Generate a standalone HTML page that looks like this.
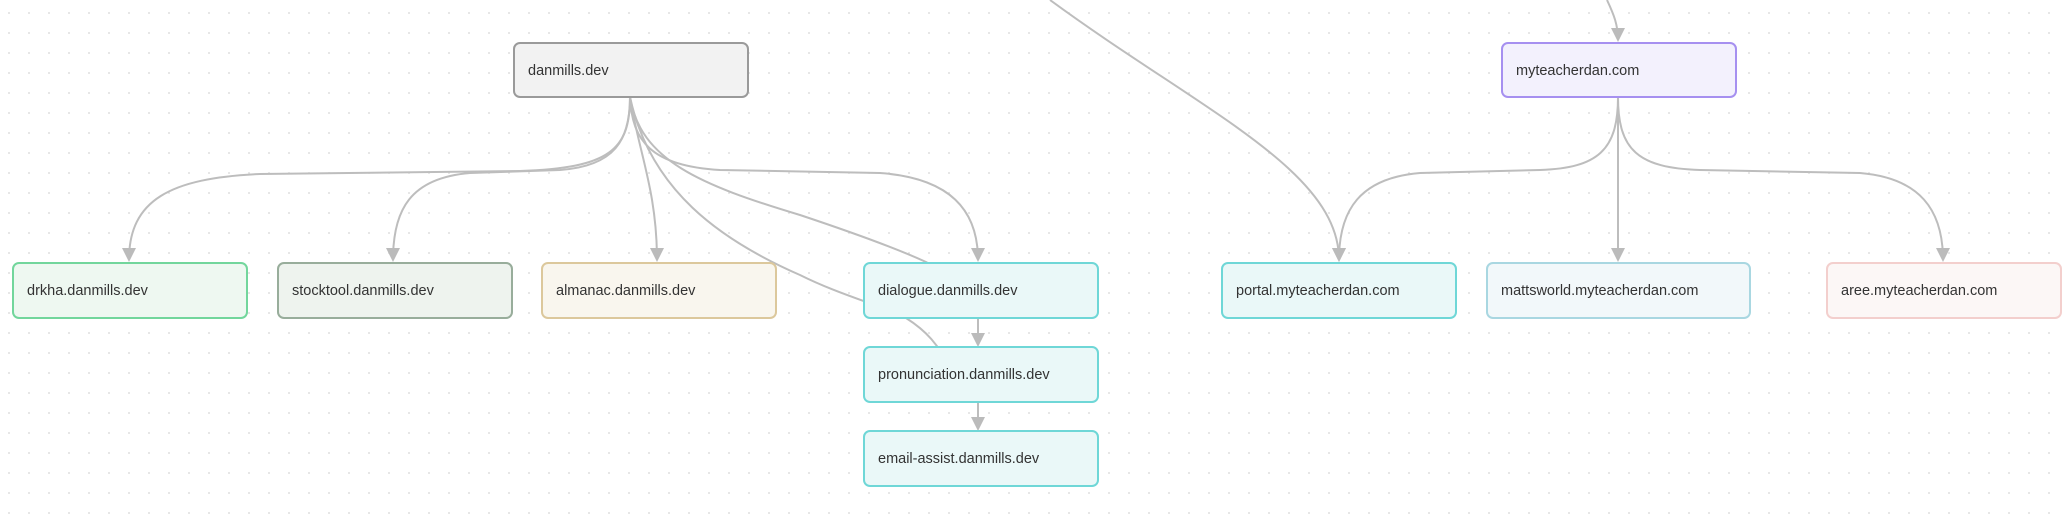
<!DOCTYPE html>
<html><head><meta charset="utf-8"><style>
html,body{margin:0;padding:0;background:#fff;}
body{width:2066px;height:529px;overflow:hidden;}
svg{display:block;}
text{font-family:"Liberation Sans",sans-serif;font-size:14.5px;fill:#333;}
</style></head><body>
<svg width="2066" height="529" xmlns="http://www.w3.org/2000/svg">
<defs>
<pattern id="dots" width="20" height="20" patternUnits="userSpaceOnUse" x="8" y="12">
<circle cx="1" cy="1" r="1" fill="#e0e0e0"/></pattern>
<marker id="ar" markerWidth="14" markerHeight="14" refX="12" refY="7" orient="auto" markerUnits="userSpaceOnUse">
<path d="M0,0 L14,7 L0,14 z" fill="#bbb"/></marker>
</defs>
<rect width="2066" height="529" fill="url(#dots)"/>
<g fill="none" stroke="#bdbdbd" stroke-width="2">
<path d="M630,97 C630,150 610,168 520,171 L260,174 C170,178 129,200 129,260" marker-end="url(#ar)"/>
<path d="M630,97 C630,140 615,166 560,170 L470,173 C410,178 393,210 393,260" marker-end="url(#ar)"/>
<path d="M630,97 C638,150 657,190 657,260" marker-end="url(#ar)"/>
<path d="M630,97 C632,140 650,166 720,170 L880,173 C950,178 978,210 978,260" marker-end="url(#ar)"/>
<path d="M630,97 C640,160 700,185 800,215 C860,235 900,250 926,262 C950,275 960,290 960,300"/>
<path d="M630,97 C650,190 720,240 800,275 C840,295 880,305 906,318 C925,330 940,345 950,370"/>
<path d="M978,318 L978,345" marker-end="url(#ar)"/>
<path d="M978,402 L978,429" marker-end="url(#ar)"/>
<path d="M1050,0 C1200,110 1339,170 1339,260" marker-end="url(#ar)"/>
<path d="M1607,0 C1614,15 1618,25 1618,40" marker-end="url(#ar)"/>
<path d="M1618,97 C1618,150 1598,168 1540,170 L1420,173 C1360,178 1339,210 1339,260" marker-end="url(#ar)"/>
<path d="M1618,97 L1618,260" marker-end="url(#ar)"/>
<path d="M1618,97 C1618,150 1638,168 1700,170 L1860,173 C1920,178 1943,210 1943,260" marker-end="url(#ar)"/>
</g>
<g stroke-width="2">
<rect x="514" y="43" width="234" height="54" rx="6" fill="#f2f2f2" stroke="#9a9a9a"/>
<rect x="13" y="263" width="234" height="55" rx="6" fill="#eef8f1" stroke="#72d69c"/>
<rect x="278" y="263" width="234" height="55" rx="6" fill="#eef3ee" stroke="#98ad9b"/>
<rect x="542" y="263" width="234" height="55" rx="6" fill="#f9f6ee" stroke="#dcc89c"/>
<rect x="864" y="263" width="234" height="55" rx="6" fill="#eaf8f8" stroke="#6fd7d7"/>
<rect x="864" y="347" width="234" height="55" rx="6" fill="#eaf8f8" stroke="#6fd7d7"/>
<rect x="864" y="431" width="234" height="55" rx="6" fill="#eaf8f8" stroke="#6fd7d7"/>
<rect x="1222" y="263" width="234" height="55" rx="6" fill="#eaf8f8" stroke="#6fd7d7"/>
<rect x="1487" y="263" width="263" height="55" rx="6" fill="#f2f8fa" stroke="#a9d7e1"/>
<rect x="1827" y="263" width="234" height="55" rx="6" fill="#fcf7f6" stroke="#f3cfcd"/>
<rect x="1502" y="43" width="234" height="54" rx="6" fill="#f3f1fd" stroke="#a690f0"/>
</g>
<text x="528" y="75">danmills.dev</text>
<text x="27" y="295">drkha.danmills.dev</text>
<text x="292" y="295">stocktool.danmills.dev</text>
<text x="556" y="295">almanac.danmills.dev</text>
<text x="878" y="295">dialogue.danmills.dev</text>
<text x="878" y="379">pronunciation.danmills.dev</text>
<text x="878" y="463">email-assist.danmills.dev</text>
<text x="1236" y="295">portal.myteacherdan.com</text>
<text x="1501" y="295">mattsworld.myteacherdan.com</text>
<text x="1841" y="295">aree.myteacherdan.com</text>
<text x="1516" y="75">myteacherdan.com</text>
</svg>
</body></html>
